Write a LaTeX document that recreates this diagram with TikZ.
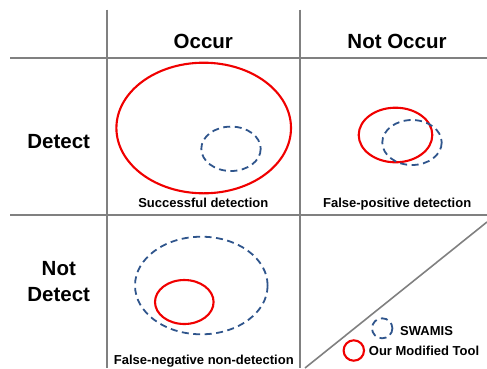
\documentclass[tikz,border=0pt]{standalone}
\usepackage{fontspec}
\setmainfont{Liberation Sans}
\definecolor{gridgray}{RGB}{128,128,128}
\definecolor{swblue}{RGB}{47,85,140}
\definecolor{tred}{RGB}{240,0,0}
\begin{document}
\begin{tikzpicture}[x=1pt,y=-1pt,
  gridline/.style={draw=gridgray,line width=2pt},
  redring/.style={draw=tred,line width=2.1pt},
  bluering/.style={draw=swblue,line width=1.8pt,dash pattern=on 7pt off 4.5pt},
  head/.style={font=\bfseries\fontsize{20.5}{24}\selectfont,anchor=base,inner sep=0pt},
  lab/.style={font=\bfseries\fontsize{13}{15}\selectfont,anchor=base,inner sep=0pt}]
\useasboundingbox (0,0) rectangle (487,368);
% grid
\draw[gridline] (107,9.5) -- (107,368);
\draw[gridline] (300,9.5) -- (300,368);
\draw[gridline] (10,58) -- (487,58);
\draw[gridline] (10,215) -- (487,215);
\draw[gridline,line width=1.6pt] (305,368) -- (487,222);
% headers
\node[head] (occ) at (203.3,48.3) {Occur};
\node[head] (nocc) at (397,48.3) {Not Occur};
\node[head] (det) at (58.7,148.3) {Detect};
\node[head] (nd1) at (58.8,275.3) {Not};
\node[head] (nd2) at (58.7,301) {Detect};
% cell labels
\node[lab] (succ) at (203.3,207.3) {Successful detection};
\node[lab] (fpos) at (397.2,207.3) {False-positive detection};
\node[lab] (fneg) at (203.8,364) {False-negative non-detection};
% ellipses
\draw[redring] (203.7,128) ellipse [x radius=87.3, y radius=65.3];
\draw[bluering] (231,148.8) ellipse [x radius=29.7, y radius=22.2];
\draw[redring] (395.5,135) ellipse [x radius=36.8, y radius=27.3];
\draw[bluering] (412,142.5) ellipse [x radius=29.7, y radius=22.5];
\draw[bluering] (201.3,285.5) ellipse [x radius=66.3, y radius=48.8];
\draw[redring] (184.3,302) ellipse [x radius=29.3, y radius=22];
% legend
\draw[bluering] (382.2,328.3) ellipse [x radius=10.2, y radius=10];
\draw[redring] (353.8,350.5) ellipse [x radius=10.2, y radius=10.2];
\node[lab,anchor=base west] (lsw) at (400,335.3) {SWAMIS};
\node[lab,anchor=base west] (lour) at (368.7,355.7) {Our Modified Tool};
\end{tikzpicture}
\end{document}
